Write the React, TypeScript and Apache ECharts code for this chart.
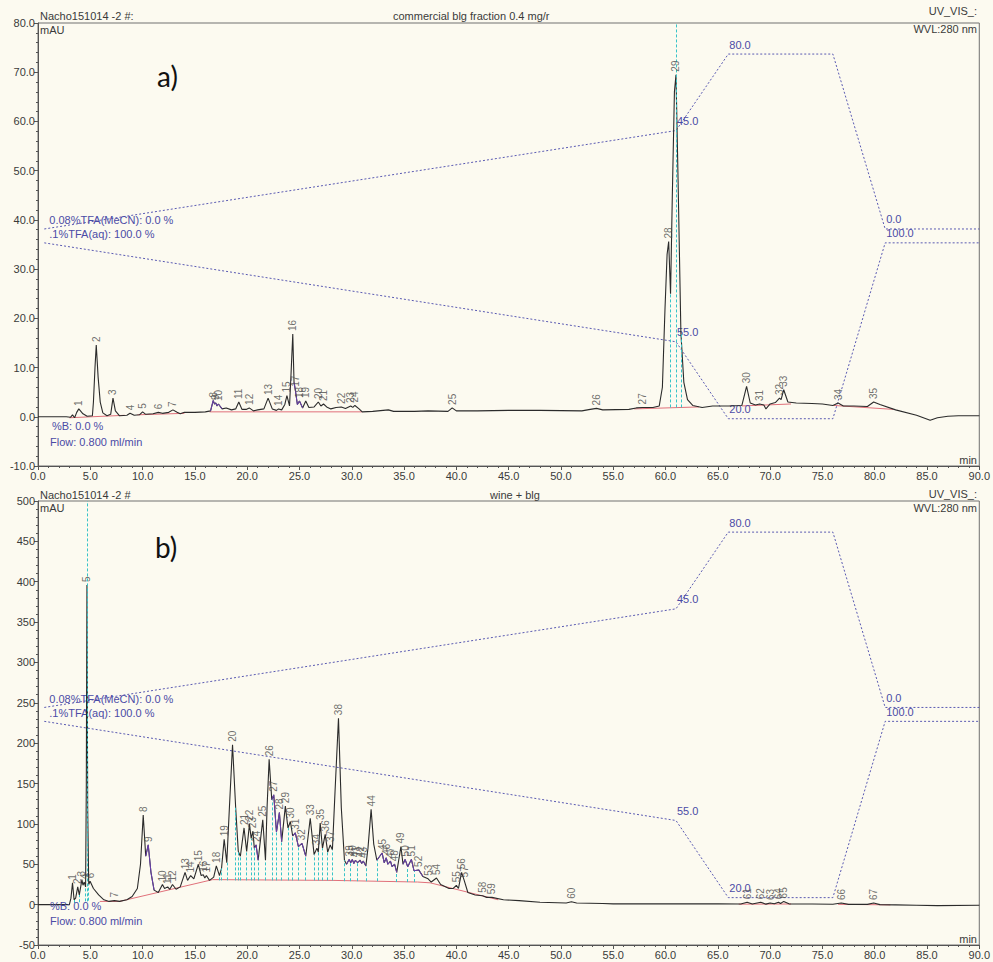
import React, { useEffect, useRef } from "react";
import * as echarts from "echarts";

// ---------- Panel a: commercial blg fraction ----------
const peakNumA = [
  1, 2, 3, 4, 5, 6, 7, 8, 9, 10, 11, 12, 13, 14, 15, 16, 17, 18, 19, 20, 21, 22, 23, 24, 25,
  26, 27, 28, 29, 30, 31, 32, 33, 34, 35,
];
const peakTimeA = [
  3.9, 5.57, 7.17, 8.8, 10.0, 11.5, 12.9, 16.75, 17.0, 17.25, 19.2, 20.2, 22.0, 23.0, 23.8,
  24.36, 24.6, 25.0, 25.6, 26.8, 27.3, 29.0, 29.9, 30.3, 39.6, 53.4, 57.8, 60.3, 61.0, 67.75,
  69.0, 70.9, 71.3, 76.5, 79.9,
];
const peakHeightA = [
  1.6, 14.6, 3.8, 0.7, 1.0, 0.9, 1.4, 3.3, 2.8, 2.6, 3.0, 1.8, 3.8, 1.6, 4.3, 16.8, 5.5, 3.2,
  3.2, 3.0, 2.6, 2.0, 2.2, 2.3, 1.8, 1.7, 1.9, 35.6, 69.5, 6.2, 2.6, 3.8, 5.5, 2.8, 3.0,
];
// signal between the labelled apexes (min, mAU)
const profileA: [number, number][] = [
  [0, 0], [2.7, 0], [3.1, -0.1], [3.3, 0.4], [3.5, -0.2], [3.7, 0.9], [4.3, 0.6], [4.7, 0.1],
  [5.2, 0.2], [5.3, 3], [5.45, 10], [5.75, 8], [5.95, 3], [6.2, 0.8], [6.6, 0.2], [6.95, 0.5],
  [7.4, 1.2], [7.8, 0.2], [8.5, 0.3], [9.2, 0.3], [9.7, 0.4], [10.3, 0.5], [11.0, 0.6],
  [11.9, 0.7], [12.5, 0.9], [13.3, 0.9], [13.6, 0.6], [14.0, 0.9], [15.0, 0.9], [16.0, 1.0],
  [16.5, 1.2], [16.88, 2.6], [17.12, 2.2], [17.6, 1.6], [18.0, 1.8], [18.5, 1.4], [18.9, 1.6],
  [19.5, 1.5], [19.9, 1.5], [20.6, 1.2], [21.0, 1.4], [21.6, 1.6], [22.4, 1.6], [22.8, 1.3],
  [23.3, 1.4], [23.6, 2.5], [24.05, 2.2], [24.2, 9], [24.48, 7], [24.8, 2.5], [25.3, 1.8],
  [25.9, 1.9], [26.4, 2.0], [27.05, 2.2], [27.6, 2.0], [28.0, 1.6], [28.5, 1.9], [29.4, 1.7],
  [30.1, 1.9], [30.7, 1.6], [31.0, 1.0], [32, 1.1], [33.5, 1.4], [34, 1.1], [36, 1.1],
  [37.3, 1.2], [39.2, 1.1], [40.0, 1.2], [42, 1.2], [45, 1.3], [48, 1.3], [52, 1.2],
  [52.8, 1.5], [54, 1.4], [56.5, 1.5], [57.2, 1.8], [58.8, 1.9], [59.4, 2.2], [59.7, 6],
  [59.95, 22], [60.15, 33], [60.48, 25], [60.65, 45], [60.85, 66], [61.2, 48], [61.47, 17],
  [61.75, 7], [62.1, 3.5], [62.6, 2.3], [63.5, 1.9], [64.5, 2.2], [66, 2.2], [67.3, 2.3],
  [68.1, 2.8], [68.6, 2.4], [69.4, 2.4], [69.6, 1.6], [70.0, 2.6], [70.5, 2.9], [71.05, 3.5],
  [71.7, 3.0], [72.5, 2.8], [74, 2.7], [75, 2.6], [76.0, 2.3], [77, 2.2], [78, 2.2],
  [79.3, 2.1], [80.5, 2.5], [82, 1.4], [84, 0.3], [85.3, -0.7], [86, -0.2], [87, 0.1],
  [88, 0.2], [90, 0.2],
];
// integration baselines
const baselinesA: [number, number][][] = [
  [[3.0, -0.2], [8.3, 0.3]],
  [[9.5, 0.4], [14.0, 0.7]],
  [[16.4, 1.0], [31.0, 1.0]],
  [[57.0, 1.6], [63.2, 2.0]],
  [[67.3, 2.2], [72.0, 2.6]],
  [[76.1, 2.3], [81.8, 1.5]],
];
// peak delimiters [time, baseline]
const dropA: [number, number][] = [[60.48, 1.9], [61.47, 1.9]];
// off-scale markers [time, baseline]
const clipA: [number, number][] = [[61.0, 1.9]];
// stretches of the trace shown in the tail colour [from, to]
const tailA: [number, number][] = [[16.5, 17.6], [24.48, 25.3]];

// ---------- Panel b: wine + blg ----------
const peakNumB = [
  1, 2, 3, 4, 5, 6, 7, 8, 9, 10, 11, 12, 13, 14, 15, 16, 17, 18, 19, 20, 21, 22, 23, 24, 25,
  26, 27, 28, 29, 30, 31, 32, 33, 34, 35, 36, 37, 38, 39, 40, 41, 42, 43, 44, 45, 46, 47, 48,
  49, 50, 51, 52, 53, 54, 55, 56, 57, 58, 59, 60, 61, 62, 63, 64, 65, 66, 67,
];
const peakTimeB = [
  3.3, 3.8, 4.2, 4.42, 4.68, 4.98, 7.3, 10.06, 10.54, 11.9, 12.4, 12.86, 14.06, 14.6, 15.33,
  15.8, 16.1, 17.05, 17.8, 18.6, 19.7, 20.22, 20.55, 20.85, 21.49, 22.1, 22.54, 23.08, 23.65,
  24.13, 24.6, 25.24, 26.03, 26.67, 26.98, 27.46, 27.94, 28.73, 29.75, 30.05, 30.35, 30.8,
  31.1, 31.85, 32.9, 33.3, 33.7, 34.1, 34.7, 35.1, 35.7, 36.4, 37.3, 38.1, 40.0, 40.5, 40.75,
  42.5, 43.4, 51.0, 67.8, 69.1, 70.0, 70.8, 71.3, 76.8, 79.9,
];
const peakHeightB = [
  27, 22, 31, 28, 396, 29, 5, 111, 74, 25, 22, 25, 40, 36, 50, 37, 36, 48, 81, 198, 95, 100,
  91, 74, 105, 180, 136, 114, 122, 103, 89, 76, 107, 70, 101, 87, 74, 231, 56, 56, 55, 55, 54,
  118, 64, 58, 54, 50, 72, 56, 56, 43, 32, 33, 24, 40, 30, 11, 9, 3.5, 3, 3, 2, 3, 4, 2, 2,
];
const profileB: [number, number][] = [
  [0, 0], [3.0, 0], [3.15, 8], [3.45, 6], [3.6, 8], [3.95, 12], [4.3, 24], [4.55, 22],
  [4.62, 150], [4.75, 120], [4.85, 25], [5.3, 20], [5.8, 12], [6.3, 6], [6.8, 4], [7.8, 4],
  [8.5, 6], [9.0, 10], [9.5, 20], [9.8, 50], [10.3, 60], [10.8, 40], [11.1, 18], [11.5, 15],
  [12.1, 20], [12.6, 19], [13.2, 19], [13.6, 22], [14.3, 30], [14.9, 32], [15.6, 36],
  [15.95, 33], [16.4, 30], [16.8, 34], [17.35, 36], [17.55, 45], [18.05, 52], [18.3, 120],
  [18.9, 120], [19.15, 66], [19.35, 60], [19.95, 66], [20.38, 82], [20.68, 70], [21.05, 55],
  [21.75, 55], [21.9, 120], [22.35, 130], [22.8, 90], [23.3, 78], [23.9, 95], [24.35, 85],
  [24.9, 72], [25.6, 60], [26.4, 62], [26.8, 65], [27.2, 70], [27.7, 65], [28.15, 68],
  [28.4, 140], [29.0, 120], [29.3, 55], [29.5, 50], [29.9, 52], [30.2, 51], [30.55, 52],
  [30.95, 51], [31.35, 48], [31.55, 70], [32.1, 75], [32.4, 55], [33.1, 52], [33.45, 50],
  [33.85, 47], [34.3, 40], [34.9, 50], [35.35, 47], [35.95, 42], [36.8, 35], [37.6, 28],
  [38.5, 25], [39.3, 20], [39.7, 20], [40.2, 20], [41.1, 15], [41.8, 12], [42.9, 9],
  [44.5, 6], [46, 5], [48, 3], [50.5, 2], [51.5, 2], [54, 1.5], [55, 1], [60, 1], [65, 1],
  [67.2, 0.8], [68.3, 0.8], [69.6, 0.6], [70.4, 1], [71.0, 1.5], [71.8, 1], [74, 0.8],
  [76, 0.5], [77.5, 0.3], [79.3, 0.3], [80.5, 0], [82, -0.3], [84, -0.8], [86, -1.2],
  [90, -0.8],
];
const baselinesB: [number, number][][] = [
  [[5.9, 4], [7.8, 4], [16.7, 31], [28.3, 30], [36.3, 28], [37.5, 27], [44.0, 6]],
  [[67.0, 0.6], [72.0, 0.8]],
  [[76.5, 0.4], [81.5, -0.3]],
];
const dropB: [number, number][] = [
  [3.45, 2], [3.95, 3], [4.55, 4], [4.85, 5], [17.35, 30], [17.55, 30], [18.05, 30],
  [18.9, 30], [19.15, 30], [19.35, 30], [19.95, 30], [20.38, 30], [20.68, 30], [21.05, 30],
  [21.75, 30], [22.35, 30], [22.8, 30], [23.3, 30], [23.9, 30], [24.35, 30], [24.9, 30],
  [25.6, 30], [26.4, 30], [26.8, 30], [27.2, 30], [27.7, 30], [28.15, 30], [29.3, 29],
  [29.9, 29], [30.55, 29], [31.35, 29], [32.4, 29], [34.3, 28], [35.35, 28], [35.95, 28],
];
const clipB: [number, number][] = [[4.68, 4]];
const tailB: [number, number][] = [
  [10.3, 11.1], [20.68, 21.05], [22.35, 23.3], [24.35, 25.6], [29.5, 31.35], [32.4, 34.3],
  [34.9, 36.8],
];

// ---------- Gradient program (%) ----------
const gradTime = [0.6, 61, 66, 76, 81, 90];
const gradMeCN = [0, 45, 80, 80, 0, 0];
const gradAq = [100, 55, 20, 20, 100, 100];
const gradLabelIdx = [1, 2, 4];

const FONT = "'Liberation Sans', Arial, sans-serif";
const INK = "#3a3a3a";
const GRAD = "#5a5ab2";
const GRAD_TEXT = "#4b4ba6";
const TRACE = "#2b2b2b";
const TAIL = "#6a3fb0";
const BASE = "#e0707a";
const CYAN = "#38c4c8";
const BG = "#fcfaf0";

function buildTrace(times: number[], heights: number[], profile: [number, number][]) {
  const pts: [number, number][] = profile.map((p) => [p[0], p[1]] as [number, number]);
  times.forEach((t, i) => pts.push([t, heights[i]]));
  pts.sort((p, q) => p[0] - q[0]);
  return pts;
}

function valueAt(trace: [number, number][], t: number) {
  let best = trace[0];
  for (const p of trace) if (Math.abs(p[0] - t) < Math.abs(best[0] - t)) best = p;
  return best[1];
}

function panelSeries(
  idx: number,
  nums: number[],
  times: number[],
  heights: number[],
  profile: [number, number][],
  baselines: [number, number][][],
  drops: [number, number][],
  clips: [number, number][],
  tails: [number, number][],
  yMax: number
) {
  const trace = buildTrace(times, heights, profile);
  const yMain = idx;
  const yB = 2 + idx * 2;
  const yA = 3 + idx * 2;
  const series: any[] = [];

  baselines.forEach((seg) =>
    series.push({
      type: "line",
      xAxisIndex: idx,
      yAxisIndex: yMain,
      data: seg,
      showSymbol: false,
      silent: true,
      lineStyle: { color: BASE, width: 1 },
      z: 2,
    })
  );

  series.push({
    type: "line",
    xAxisIndex: idx,
    yAxisIndex: yMain,
    data: trace,
    showSymbol: false,
    silent: true,
    lineStyle: { color: TRACE, width: 1.1 },
    z: 4,
    markLine: {
      silent: true,
      symbol: ["none", "none"],
      label: { show: false },
      animation: false,
      lineStyle: { color: CYAN, type: [3, 2], width: 1 },
      data: [
        ...drops.map((d) => [{ coord: [d[0], d[1]] }, { coord: [d[0], valueAt(trace, d[0])] }]),
        ...clips.map((d) => [{ coord: [d[0], d[1]] }, { coord: [d[0], yMax] }]),
      ],
    },
  });

  tails.forEach(([from, to]) =>
    series.push({
      type: "line",
      xAxisIndex: idx,
      yAxisIndex: yMain,
      data: trace.filter((p) => p[0] >= from && p[0] <= to),
      showSymbol: false,
      silent: true,
      lineStyle: { color: TAIL, width: 1 },
      z: 5,
    })
  );

  const gradLabel = (i: number, first: string) =>
    i === 0
      ? { show: true, formatter: first, position: "top", align: "left", distance: 3, offset: [5, 0] }
      : gradLabelIdx.includes(i)
      ? { show: true, position: "top", align: "left", distance: 4, offset: [1, 0] }
      : { show: false };

  const gradSeries = (vals: number[], yAxisIndex: number, first: string) => ({
    type: "line",
    xAxisIndex: idx,
    yAxisIndex,
    symbol: "circle",
    symbolSize: 0,
    showSymbol: true,
    silent: true,
    lineStyle: { color: GRAD, width: 1, type: [2, 2] },
    label: {
      color: GRAD_TEXT,
      fontFamily: FONT,
      fontSize: 11,
      formatter: (p: any) => Number(p.value[1]).toFixed(1),
    },
    data: gradTime.map((t, i) => ({ value: [t, vals[i]], label: gradLabel(i, first) })),
    z: 3,
  });

  series.push(gradSeries(gradMeCN, yB, "0.08%TFA(MeCN): 0.0 %"));
  series.push(gradSeries(gradAq, yA, ".1%TFA(aq): 100.0 %"));

  series.push({
    type: "scatter",
    xAxisIndex: idx,
    yAxisIndex: yMain,
    symbolSize: 0,
    silent: true,
    data: nums.map((n, i) => ({ name: String(n), value: [times[i], heights[i]] })),
    label: {
      show: true,
      formatter: "{b}",
      position: "top",
      rotate: 90,
      align: "left",
      verticalAlign: "middle",
      distance: 3,
      color: "#4a4a4a",
      fontFamily: FONT,
      fontSize: 10,
    },
    z: 6,
  });
  return series;
}

const PANELS = [
  { top: 23, height: 443 },
  { top: 501, height: 444 },
];

function txt(text: string, x: number, y: number, extra: any = {}) {
  return {
    type: "text",
    x,
    y,
    silent: true,
    style: {
      text,
      fill: INK,
      fontFamily: FONT,
      fontSize: 11,
      verticalAlign: "middle",
      align: "left",
      ...extra,
    },
    z: 10,
  };
}

export default function App() {
  const ref = useRef<HTMLDivElement>(null);

  useEffect(() => {
    if (!ref.current) return;
    const chart = echarts.init(ref.current, undefined, { renderer: "svg" });

    const axisTickStyle = { lineStyle: { color: "#555" } };
    const xAxes = PANELS.map((_, i) => ({
      type: "value",
      gridIndex: i,
      min: 0,
      max: 90,
      interval: 5,
      axisLine: { show: true, onZero: false, lineStyle: { color: "#555" } },
      axisTick: { show: true, length: 4, ...axisTickStyle },
      minorTick: { show: true, splitNumber: 5, length: 2, ...axisTickStyle },
      splitLine: { show: false },
      axisLabel: {
        color: INK,
        fontFamily: FONT,
        fontSize: 11,
        margin: 4,
        formatter: (v: number) => v.toFixed(1),
      },
    }));

    const yMain = [
      { min: -10, max: 80, interval: 10, fmt: (v: number) => v.toFixed(1) },
      { min: -50, max: 500, interval: 50, fmt: (v: number) => String(v) },
    ].map((a, i) => ({
      type: "value",
      gridIndex: i,
      min: a.min,
      max: a.max,
      interval: a.interval,
      axisLine: { show: true, onZero: false, lineStyle: { color: "#555" } },
      axisTick: { show: true, length: 4, ...axisTickStyle },
      minorTick: { show: true, splitNumber: 5, length: 2, ...axisTickStyle },
      splitLine: { show: false },
      axisLabel: { color: INK, fontFamily: FONT, fontSize: 11, margin: 3, formatter: a.fmt },
    }));

    const hidden = (gridIndex: number, min: number, max: number) => ({
      type: "value",
      gridIndex,
      min,
      max,
      show: false,
      splitLine: { show: false },
    });

    const option: any = {
      animation: false,
      backgroundColor: BG,
      grid: PANELS.map((p) => ({
        left: 38,
        width: 942,
        top: p.top,
        height: p.height,
        show: true,
        borderColor: "#707070",
        borderWidth: 1,
        backgroundColor: BG,
      })),
      xAxis: xAxes,
      yAxis: [
        ...yMain,
        hidden(0, -108.4, 94.2),
        hidden(0, -1.5, 200),
        hidden(1, -108.4, 94.2),
        hidden(1, -1.5, 200),
      ],
      series: [
        ...panelSeries(0, peakNumA, peakTimeA, peakHeightA, profileA, baselinesA, dropA, clipA, tailA, 80),
        ...panelSeries(1, peakNumB, peakTimeB, peakHeightB, profileB, baselinesB, dropB, clipB, tailB, 500),
      ],
      graphic: [
        txt("Nacho151014 -2 #:", 40, 16),
        txt("commercial blg fraction 0.4 mg/r", 393, 16),
        txt("UV_VIS_:", 977, 11, { align: "right" }),
        txt("WVL:280 nm", 977, 29, { align: "right" }),
        txt("mAU", 40, 30),
        txt("a)", 157, 76, { fontSize: 28, fontFamily: "Lato, 'Open Sans', sans-serif", fill: "#111" }),
        txt("%B: 0.0 %", 52, 426, { fill: GRAD_TEXT }),
        txt("Flow: 0.800 ml/min", 50, 442, { fill: GRAD_TEXT }),
        txt("min", 977, 460, { align: "right" }),

        txt("Nacho151014 -2 #", 40, 495),
        txt("wine + blg", 490, 495),
        txt("UV_VIS_:", 977, 494, { align: "right" }),
        txt("WVL:280 nm", 977, 508, { align: "right" }),
        txt("mAU", 40, 508),
        txt("b)", 155, 547, { fontSize: 28, fontFamily: "Lato, 'Open Sans', sans-serif", fill: "#111" }),
        txt("%B: 0.0 %", 50, 906, { fill: GRAD_TEXT }),
        txt("Flow: 0.800 ml/min", 50, 921, { fill: GRAD_TEXT }),
        txt("min", 977, 939, { align: "right" }),
      ],
    };

    chart.setOption(option);
    return () => chart.dispose();
  }, []);

  return (
    <div
      ref={ref}
      style={{ position: "absolute", left: 0, top: 0, width: 993, height: 962, background: BG }}
    />
  );
}
